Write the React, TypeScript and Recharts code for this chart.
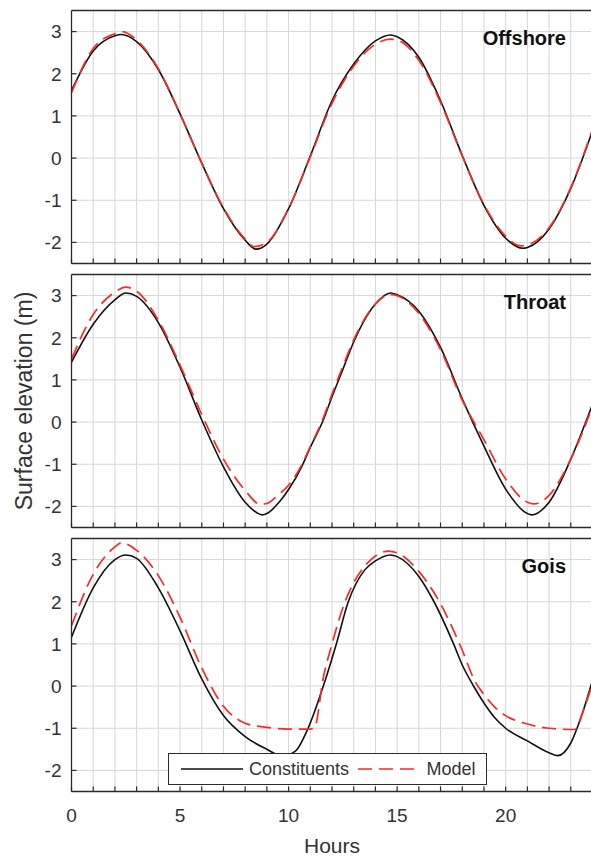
import React from 'react';
import { LineChart, Line, XAxis, YAxis, CartesianGrid, Legend } from 'recharts';

// hours on the x axis, surface elevation (m) on the y axis
const hourTicks = [0, 1, 2, 3, 4, 5, 6, 7, 8, 9, 10, 11, 12, 13, 14, 15, 16, 17, 18, 19, 20, 21, 22, 23, 24];
const labeledHours = [0, 5, 10, 15, 20];
const levelTicks = [-2, -1, 0, 1, 2, 3];

// [hour, elevation]
const offshoreConstituents = [
  [0, 1.6], [1, 2.54], [2, 2.9], [2.3, 2.93], [3, 2.76], [4, 2.1], [5, 1.05], [6, -0.12],
  [7, -1.2], [8, -1.95], [8.5, -2.16], [9, -2.04], [10, -1.2], [11, 0.05], [12, 1.36],
  [13, 2.23], [14, 2.78], [14.7, 2.92], [15, 2.88], [16, 2.39], [17, 1.36], [18, 0.06],
  [19, -1.12], [20, -1.9], [20.8, -2.14], [21, -2.12], [22, -1.68], [23, -0.72], [24, 0.65],
];
const offshoreModel = [
  [0, 1.55], [1, 2.6], [2, 2.95], [2.3, 3.0], [3, 2.8], [4, 2.12], [5, 1.05], [6, -0.12],
  [7, -1.18], [8, -1.92], [8.4, -2.1], [9, -2.0], [10, -1.2], [11, 0.03], [12, 1.3],
  [13, 2.18], [14, 2.7], [14.7, 2.82], [15, 2.8], [16, 2.32], [17, 1.32], [18, 0.05],
  [19, -1.1], [20, -1.85], [20.7, -2.08], [21, -2.06], [22, -1.65], [23, -0.7], [24, 0.68],
];
const throatConstituents = [
  [0, 1.42], [1, 2.32], [2, 2.9], [2.5, 3.06], [3, 2.98], [4, 2.36], [5, 1.3], [6, 0.05],
  [7, -1.06], [8, -1.9], [8.8, -2.2], [9, -2.17], [9.6, -1.88], [10, -1.6], [10.6, -1.06],
  [11, -0.6], [11.6, 0.05], [12, 0.6], [12.5, 1.25], [13, 1.9], [14, 2.8], [14.7, 3.06],
  [15, 3.02], [16, 2.63], [17, 1.77], [18, 0.55], [19, -0.57], [20, -1.59], [21, -2.17],
  [21.2, -2.2], [22, -1.9], [23, -0.88], [24, 0.42],
];
const throatModel = [
  [0, 1.5], [1, 2.55], [2, 3.08], [2.5, 3.2], [3, 3.1], [4, 2.42], [5, 1.35], [6, 0.18],
  [7, -0.88], [8, -1.62], [8.7, -1.95], [9, -1.93], [9.5, -1.74], [10, -1.5], [10.6, -1.02],
  [11, -0.58], [11.6, 0.1], [12, 0.66], [12.5, 1.32], [13, 1.95], [14, 2.8], [14.7, 3.03],
  [15, 3.0], [16, 2.58], [17, 1.72], [18, 0.52], [19, -0.42], [20, -1.35], [21, -1.9],
  [21.3, -1.94], [22, -1.74], [23, -0.88], [24, 0.37],
];
const goisConstituents = [
  [0, 1.16], [1, 2.33], [2, 3.0], [2.5, 3.11], [3, 3.03], [4, 2.33], [5, 1.31], [6, 0.17],
  [7, -0.7], [8, -1.2], [9, -1.5], [9.7, -1.66], [10.3, -1.55], [10.9, -1.0], [11.6, 0],
  [12.2, 1.0], [12.75, 2.0], [13.5, 2.75], [14, 2.97], [14.7, 3.11], [15, 3.07], [16, 2.6],
  [16.7, 2.0], [17.6, 1.0], [18, 0.5], [18.5, 0.02], [19, -0.4], [19.5, -0.75], [20, -1.0],
  [21, -1.3], [22, -1.58], [22.4, -1.65], [23, -1.35], [23.5, -0.7], [24, 0.14],
];
const goisModel = [
  [0, 1.43], [1, 2.65], [2, 3.3], [2.3, 3.4], [3, 3.22], [4, 2.62], [5, 1.63], [6, 0.43],
  [7, -0.48], [8, -0.88], [9, -0.98], [10, -1.02], [11, -1.02], [11.2, -0.98], [11.6, 0.2],
  [12, 1.0], [12.6, 2.0], [13, 2.45], [13.8, 3.0], [14.6, 3.2], [15, 3.16], [16, 2.72],
  [17, 1.95], [18, 0.85], [18.6, 0.1], [19, -0.2], [19.5, -0.5], [20, -0.7], [21, -0.9],
  [22, -1.0], [23.2, -1.03], [23.6, -0.55], [24, 0.06],
];
const panelNames = ['Offshore', 'Throat', 'Gois'];

const FONT = '"Liberation Sans", Arial, Helvetica, sans-serif';
const AXIS = '#2b2b2b';
const TEXT = '#333333';
const axisLine = { stroke: AXIS, strokeWidth: 1.3 };

const toPoints = (pairs: number[][]) => pairs.map(([t, v]) => ({ t, v }));

const panels = [
  { title: panelNames[0], constituents: toPoints(offshoreConstituents), model: toPoints(offshoreModel) },
  { title: panelNames[1], constituents: toPoints(throatConstituents), model: toPoints(throatModel) },
  { title: panelNames[2], constituents: toPoints(goisConstituents), model: toPoints(goisModel) },
];

function BottomTick(props: any) {
  const { x, y, payload, showLabel } = props;
  return (
    <g>
      <line x1={x} y1={y} x2={x} y2={y - 5} stroke={AXIS} strokeWidth={1.2} />
      {showLabel && labeledHours.includes(payload.value) && (
        <text x={x} y={y + 30} textAnchor="middle" fontSize={19} fill={TEXT} fontFamily={FONT}>
          {payload.value}
        </text>
      )}
    </g>
  );
}

function TopTick(props: any) {
  const { x, y } = props;
  return <line x1={x} y1={y} x2={x} y2={y + 5} stroke={AXIS} strokeWidth={1.2} />;
}

function LeftTick(props: any) {
  const { x, y, payload } = props;
  return (
    <g>
      <line x1={x} y1={y} x2={x + 5} y2={y} stroke={AXIS} strokeWidth={1.2} />
      <text x={x - 10} y={y} dy={6.8} textAnchor="end" fontSize={19} fill={TEXT} fontFamily={FONT}>
        {payload.value}
      </text>
    </g>
  );
}

function RightTick(props: any) {
  const { x, y } = props;
  return <line x1={x} y1={y} x2={x - 5} y2={y} stroke={AXIS} strokeWidth={1.2} />;
}

function LegendBox(props: any) {
  const { payload = [] } = props;
  return (
    <div
      style={{
        boxSizing: 'border-box',
        width: 319,
        height: 32,
        border: `1px solid ${AXIS}`,
        background: '#fff',
        display: 'flex',
        alignItems: 'center',
        fontSize: 18,
        color: TEXT,
        fontFamily: FONT,
        whiteSpace: 'nowrap',
      }}
    >
      {payload.map((entry: any, i: number) => (
        <React.Fragment key={i}>
          <svg width={62} height={10} style={{ display: 'block', marginLeft: i === 0 ? 11.5 : 9 }}>
            <line
              x1={0}
              y1={5}
              x2={62}
              y2={5}
              stroke={entry.color}
              strokeWidth={1.7}
              strokeDasharray={entry.payload?.strokeDasharray}
            />
          </svg>
          <span style={{ marginLeft: 6.5 }}>{entry.value}</span>
        </React.Fragment>
      ))}
    </div>
  );
}

function Panel(props: any) {
  const { title, constituents, model, top, height, bottom, isLast, isMiddle } = props;
  return (
    <div style={{ position: 'absolute', left: 0, top }}>
      <LineChart width={600} height={height} margin={{ top: 0.5, right: 2.5, bottom, left: 0 }}>
        <CartesianGrid stroke="#d6d6d6" strokeWidth={1} />
        <XAxis
          dataKey="t"
          type="number"
          domain={[0, 24]}
          ticks={hourTicks}
          interval={0}
          height={10}
          tickSize={0}
          tickMargin={0}
          tickLine={false}
          axisLine={axisLine}
          tick={<BottomTick showLabel={isLast} />}
          label={
            isLast
              ? {
                  content: (p: any) => (
                    <text
                      x={p.viewBox.x + p.viewBox.width / 2}
                      y={p.viewBox.y + 61.5}
                      textAnchor="middle"
                      fontSize={21}
                      fill={TEXT}
                      fontFamily={FONT}
                    >
                      Hours
                    </text>
                  ),
                }
              : undefined
          }
        />
        <XAxis
          xAxisId="top"
          orientation="top"
          type="number"
          domain={[0, 24]}
          ticks={hourTicks}
          interval={0}
          height={10}
          tickSize={0}
          tickMargin={0}
          tickLine={false}
          axisLine={axisLine}
          tick={<TopTick />}
          label={{
            content: (p: any) => (
              <text
                x={p.viewBox.x + p.viewBox.width - 26.5}
                y={p.viewBox.y + 44}
                textAnchor="end"
                fontSize={20}
                fontWeight="bold"
                fill="#111"
                fontFamily={FONT}
              >
                {title}
              </text>
            ),
          }}
        />
        <YAxis
          type="number"
          domain={[-2.5, 3.5]}
          ticks={levelTicks}
          interval={0}
          width={71.5}
          tickSize={0}
          tickMargin={0}
          tickLine={false}
          axisLine={axisLine}
          tick={<LeftTick />}
          label={
            isMiddle
              ? {
                  content: (p: any) => {
                    const cx = 24;
                    const cy = p.viewBox.y + p.viewBox.height / 2;
                    return (
                      <text
                        x={cx}
                        y={cy}
                        transform={`rotate(-90 ${cx} ${cy})`}
                        textAnchor="middle"
                        dominantBaseline="central"
                        fontSize={23}
                        fill={TEXT}
                        fontFamily={FONT}
                      >
                        Surface elevation (m)
                      </text>
                    );
                  },
                }
              : undefined
          }
        />
        <YAxis
          yAxisId="right"
          orientation="right"
          type="number"
          domain={[-2.5, 3.5]}
          ticks={levelTicks}
          interval={0}
          width={5}
          tickSize={0}
          tickMargin={0}
          tickLine={false}
          axisLine={axisLine}
          tick={<RightTick />}
        />
        <Line
          data={constituents}
          dataKey="v"
          name="Constituents"
          type="monotone"
          stroke="#111111"
          strokeWidth={1.6}
          dot={false}
          activeDot={false}
          isAnimationActive={false}
        />
        <Line
          data={model}
          dataKey="v"
          name="Model"
          type="monotone"
          stroke="#f52b2b"
          strokeWidth={1.7}
          strokeDasharray="14 7"
          dot={false}
          activeDot={false}
          isAnimationActive={false}
        />
        {isLast && (
          <Legend
            layout="vertical"
            align="center"
            verticalAlign="middle"
            content={<LegendBox />}
            wrapperStyle={{ left: 168, top: 225, width: 319, height: 32 }}
          />
        )}
      </LineChart>
    </div>
  );
}

export default function App() {
  const tops = [0, 264, 528];
  const heights = [274, 274, 328];
  const bottoms = [0.5, 0.5, 54.5];
  return (
    <div
      style={{
        position: 'absolute',
        left: 0,
        top: 0,
        width: 591,
        height: 856,
        overflow: 'hidden',
        background: '#fff',
        fontFamily: FONT,
      }}
    >
      {panels.map((p, i) => (
        <Panel
          key={p.title}
          title={p.title}
          constituents={p.constituents}
          model={p.model}
          top={tops[i]}
          height={heights[i]}
          bottom={bottoms[i]}
          isLast={i === 2}
          isMiddle={i === 1}
        />
      ))}
    </div>
  );
}
